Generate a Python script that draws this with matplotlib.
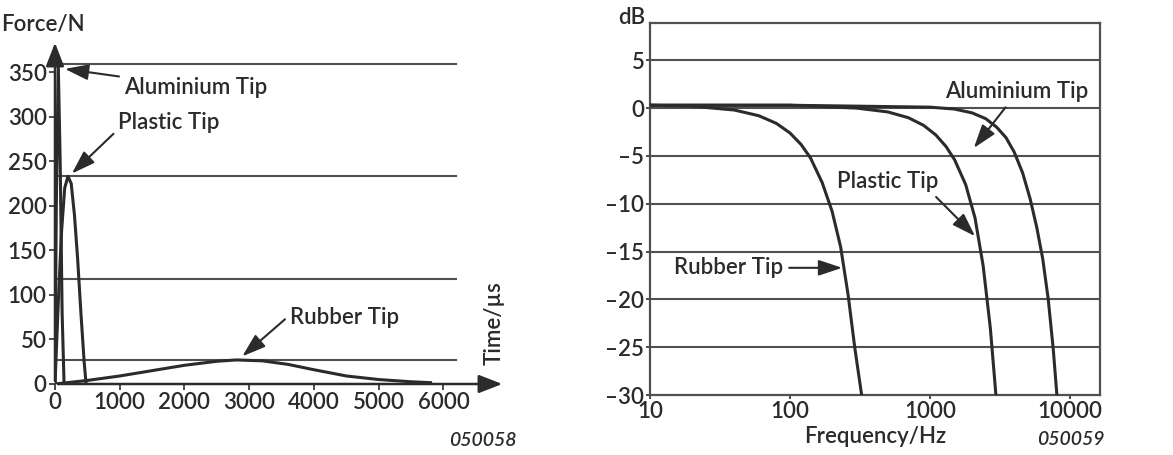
import matplotlib
matplotlib.use('Agg')
from matplotlib import pyplot as plt
from matplotlib.ticker import FixedLocator, NullLocator

plt.rcParams['font.family'] = ['Lato', 'DejaVu Sans']
plt.rcParams['font.size'] = 16
plt.rcParams['font.weight'] = 'semibold'
plt.rcParams['axes.labelweight'] = 'semibold'

LINE = '#2b2b2b'
GRID = '#505050'
TXT = '#2b2b2b'

# ---- left chart: force pulse vs time ----
alu_t = [0, 20, 50, 80, 110, 140]
alu_f = [0, 200, 359, 250, 80, 0]
pla_t = [0, 50, 100, 150, 200, 250, 300, 350, 400, 450, 480]
pla_f = [0, 90, 170, 220, 233, 225, 190, 140, 80, 25, 0]
rub_t = [0, 500, 1000, 1500, 2000, 2500, 2800, 3200, 3600, 4000, 4500, 5000, 5500, 5800]
rub_f = [0, 4, 9, 15, 21, 25.5, 27, 26, 22, 16, 9, 5, 2.5, 1.5]
level_lines = [359, 233, 118, 27]
force_ticks = [0, 50, 100, 150, 200, 250, 300, 350]
time_ticks = [0, 1000, 2000, 3000, 4000, 5000, 6000]

# ---- right chart: frequency response ----
rub_hz = [10, 20, 40, 60, 80, 100, 120, 140, 170, 200, 230, 260, 290, 325]
rub_db = [0.3, 0.2, -0.2, -0.8, -1.6, -2.6, -3.8, -5.2, -7.8, -10.8, -14.5, -19.5, -25, -30]
pla_hz = [10, 100, 300, 500, 700, 900, 1100, 1300, 1500, 1800, 2100, 2400, 2700, 2960]
pla_db = [0.3, 0.3, 0.0, -0.4, -1.0, -1.8, -2.8, -4.0, -5.4, -8.0, -11.5, -16.5, -23, -30]
alu_hz = [10, 100, 1000, 1500, 2000, 2500, 3000, 3500, 4000, 4600, 5200, 5800, 6400, 7000, 7600, 8070]
alu_db = [0.3, 0.3, 0.1, -0.1, -0.5, -1.1, -2.0, -3.1, -4.6, -6.8, -9.5, -12.5, -15.8, -20, -25.2, -30]
db_ticks = [5, 0, -5, -10, -15, -20, -25, -30]
hz_ticks = [10, 100, 1000, 10000]

fig = plt.figure(figsize=(11.73, 4.55), dpi=100)

# left
ax1 = fig.add_axes([55 / 1173, 1 - 384 / 455, 450 / 1173, 344 / 455])
ax1.set_xlim(0, 6950)
ax1.set_ylim(0, 386)
for s in ax1.spines.values():
    s.set_visible(False)
for y in level_lines:
    ax1.plot([0, 6200], [y, y], color=GRID, lw=1.5, zorder=1)
ax1.plot(alu_t, alu_f, color=LINE, lw=2.2, zorder=3)
ax1.plot(pla_t, pla_f, color=LINE, lw=2.2, zorder=3)
ax1.plot(rub_t, rub_f, color=LINE, lw=2.2, zorder=3)
arrow = dict(arrowstyle='-|>,head_length=0.9,head_width=0.35', color=LINE, lw=1.8)
ax1.annotate('', xy=(1, 0), xytext=(0, 0), xycoords='axes fraction', arrowprops=arrow)
ax1.annotate('', xy=(0, 1), xytext=(0, 0), xycoords='axes fraction', arrowprops=arrow)
ax1.set_yticks(force_ticks)
ax1.set_xticks(time_ticks)
ax1.tick_params(length=4, width=1.2, color=LINE, pad=2, labelsize=16, labelcolor=TXT)
ax1.text(-0.12, 1.044, 'Force/N', transform=ax1.transAxes, fontsize=16, color=TXT,
         ha='left', va='center')
ax1.text(6780, 68, 'Time/µs', rotation=90, fontsize=16, color=TXT, ha='center', va='center')
ax1.text(0.95, -0.163, '050058', transform=ax1.transAxes, fontsize=14, style='italic',
         color=TXT, ha='center', va='center')
tip_arrow = dict(arrowstyle='-|>,head_length=0.9,head_width=0.3', color=LINE, lw=1.5)
ax1.annotate('Aluminium Tip', xy=(110, 354), xytext=(2180, 333), fontsize=16, color=TXT,
             ha='center', va='center', arrowprops=tip_arrow)
ax1.annotate('Plastic Tip', xy=(230, 234), xytext=(1760, 293), fontsize=16, color=TXT,
             ha='center', va='center',
             arrowprops=dict(tip_arrow, relpos=(0, 0.2)))
ax1.annotate('Rubber Tip', xy=(2860, 29), xytext=(4470, 75), fontsize=16, color=TXT,
             ha='center', va='center',
             arrowprops=dict(tip_arrow, relpos=(0, 0.6)))

# right
ax2 = fig.add_axes([650 / 1173, 1 - 395 / 455, 450 / 1173, 372 / 455])
ax2.set_xscale('log')
ax2.set_xlim(10, 16400)
ax2.set_ylim(-30, 8.9)
for s in ax2.spines.values():
    s.set_color(GRID)
    s.set_linewidth(1.6)
for y in db_ticks[:-1]:
    ax2.axhline(y, color=GRID, lw=1.5, zorder=1)
ax2.plot(rub_hz, rub_db, color=LINE, lw=2.2, zorder=3)
ax2.plot(pla_hz, pla_db, color=LINE, lw=2.2, zorder=3)
ax2.plot(alu_hz, alu_db, color=LINE, lw=2.2, zorder=3)
ax2.xaxis.set_major_locator(FixedLocator(hz_ticks))
ax2.xaxis.set_minor_locator(NullLocator())
ax2.set_xticklabels([str(v) for v in hz_ticks])
ax2.set_yticks(db_ticks)
ax2.set_yticklabels([str(v).replace('-', '\u2013') for v in db_ticks])
ax2.tick_params(length=3, width=1.2, color=LINE, pad=1, labelsize=16, labelcolor=TXT)
ax2.set_xlabel('Frequency/Hz', fontsize=16, fontweight='semibold', color=TXT, labelpad=3)
ax2.text(-0.04, 1.016, 'dB', transform=ax2.transAxes, fontsize=16, color=TXT,
         ha='center', va='center')
ax2.text(0.935, -0.12, '050059', transform=ax2.transAxes, fontsize=14, style='italic',
         color=TXT, ha='center', va='center')
ax2.annotate('Aluminium Tip', xy=(2000, -4.4), xytext=(1280, 1.7), fontsize=16, color=TXT,
             ha='left', va='center',
             arrowprops=dict(tip_arrow, relpos=(0.45, 0)))
ax2.annotate('Plastic Tip', xy=(2170, -13.6), xytext=(500, -7.7), fontsize=16, color=TXT,
             ha='center', va='center',
             arrowprops=dict(tip_arrow, relpos=(0.93, 0)))
ax2.annotate('Rubber Tip', xy=(247, -16.7), xytext=(36.7, -16.7), fontsize=16, color=TXT,
             ha='center', va='center',
             arrowprops=dict(tip_arrow, relpos=(1, 0.5)))

fig.savefig('out.png', dpi=100, facecolor='white')
